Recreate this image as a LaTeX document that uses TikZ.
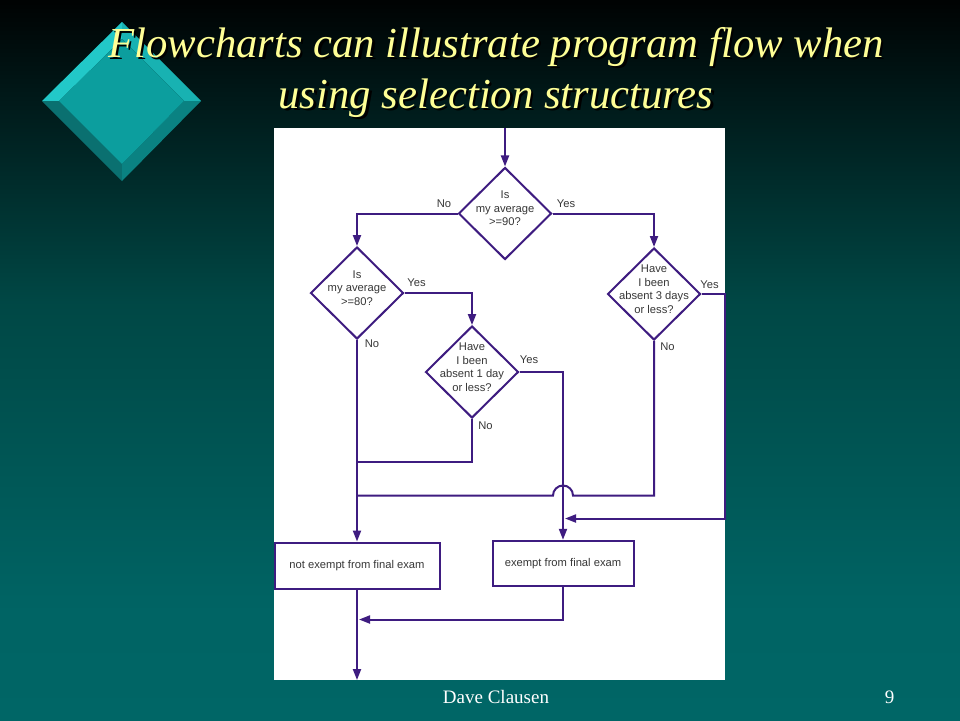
\documentclass[tikz,border=0pt]{standalone}
\usepackage{fontspec}
\setmainfont{Liberation Serif}
\newfontfamily\chartfont{Liberation Sans}
\usetikzlibrary{shapes.geometric,arrows.meta}
\definecolor{flowline}{RGB}{62,28,128}
\definecolor{chartgray}{RGB}{55,55,55}
\definecolor{titleyellow}{RGB}{255,255,150}
\definecolor{facetA}{RGB}{34,200,200}
\definecolor{facetB}{RGB}{24,178,178}
\definecolor{facetC}{RGB}{12,158,158}
\definecolor{facetD}{RGB}{10,112,112}
\definecolor{facetE}{RGB}{10,130,130}
\pgfdeclareverticalshading{slidebg}{100bp}{rgb(0bp)=(0,0.4,0.4); rgb(25bp)=(0,0.4,0.4);
  rgb(33bp)=(0,0.39,0.39); rgb(54bp)=(0,0.28,0.27); rgb(68bp)=(0,0.1,0.1);
  rgb(75bp)=(0,0.01,0.01); rgb(100bp)=(0,0.01,0.01)}
\newcommand{\shadowed}[1]{\leavevmode\rlap{\kern2.5pt\raisebox{-2.5pt}{\color{black}#1}}#1}
\begin{document}
\begin{tikzpicture}[x=1pt,y=-1pt,
  dec/.style={draw=flowline,line width=2pt,shape=diamond,minimum width=93pt,minimum height=92pt,inner sep=0pt},
  dtext/.style={font=\chartfont\fontsize{11.2}{13.6}\selectfont,text=chartgray,align=center,yshift=5pt},
  act/.style={draw=flowline,line width=2pt,fill=white,font=\chartfont\fontsize{11.2}{13.6}\selectfont,text=chartgray},
  lbl/.style={font=\chartfont\fontsize{11.2}{13.6}\selectfont,text=chartgray},
  link/.style={draw=flowline,line width=2pt},
  flow/.style={link,-{Triangle[length=11pt,width=8pt]}},
  ttl/.style={font=\fontsize{42.7}{49}\selectfont\itshape,anchor=base,text=titleyellow}]
\useasboundingbox (0,0) rectangle (960,720);
\shade[shading=slidebg] (0,0) rectangle (960,720);
%%%% diamond ornament
\fill[facetA] (122,22) -- (42,101) -- (59,101) -- (122,39) -- cycle;
\fill[facetB] (122,22) -- (201,101) -- (184,101) -- (122,39) -- cycle;
\fill[facetD] (42,101) -- (122,181) -- (122,164) -- (59,101) -- cycle;
\fill[facetE] (201,101) -- (122,181) -- (122,164) -- (184,101) -- cycle;
\fill[facetC] (122,39) -- (184,101) -- (122,164) -- (59,101) -- cycle;
%%%% title
\node[ttl] (title1) at (496,57) {\shadowed{Flowcharts can illustrate program flow when}};
\node[ttl] (title2) at (496,108) {\shadowed{using selection structures}};
%%%% chart
\fill[white] (274,128) rectangle (725,680);
\node[dec] (d1) at (505,213.5) {};
\node[dec] (d2) at (357,293) {};
\node[dec] (d3) at (654,294) {};
\node[dec] (d4) at (472,372) {};
\node[dtext] (t1) at (d1) {Is\\my average\\>=90?};
\node[dtext] (t2) at (d2) {Is\\my average\\>=80?};
\node[dtext] (t3) at (d3) {Have\\I been\\absent 3 days\\or less?};
\node[dtext] (t4) at (d4) {Have\\I been\\absent 1 day\\or less?};
\node[act,minimum width=165pt,minimum height=46pt] (nex) at (357,565.5) {not exempt from final exam};
\node[act,minimum width=141pt,minimum height=45pt] (ex) at (563,563.3) {exempt from final exam};
\coordinate (in) at (505,128);
\coordinate (j1) at (357,462);
\coordinate (j2) at (357,495.5);
\coordinate (j3) at (565,518.5);
\coordinate (j4) at (359,619.5);
\coordinate (out) at (357,680);
\draw[flow] (in) -- (d1);
\draw[flow] (d1.west) -| (d2.north);
\draw[flow] (d1.east) -| (d3.north);
\draw[flow] (d2.east) -| (d4.north);
\draw[flow] (d2.south) -- (nex.north);
\draw[flow] (d4.east) -| (ex.north);
\draw[link] (d4.south) |- (j1);
\draw[link] (d3.south) |- (573,495.5) arc[start angle=0,end angle=180,radius=10pt] -- (j2);
\draw[flow] (d3.east) -- ++(23.5,0) |- (j3);
\draw[flow] (ex.south) |- (j4);
\draw[flow] (nex.south) -- (out);
\node[lbl] (n1) at (444,204) {No};
\node[lbl] (y1) at (566,204) {Yes};
\node[lbl] (y2) at (416.5,283) {Yes};
\node[lbl] (n2) at (372,344) {No};
\node[lbl] (y3) at (709.5,284.5) {Yes};
\node[lbl] (n3) at (667.5,347) {No};
\node[lbl] (y4) at (529,360) {Yes};
\node[lbl] (n4) at (485.5,425.5) {No};
%%%% footer
\node[font=\fontsize{19}{22}\selectfont,text=white,anchor=base] (foot) at (496,703) {Dave Clausen};
\node[font=\fontsize{19}{22}\selectfont,text=white,anchor=base] (page) at (889.5,703) {9};
\end{tikzpicture}
\end{document}
